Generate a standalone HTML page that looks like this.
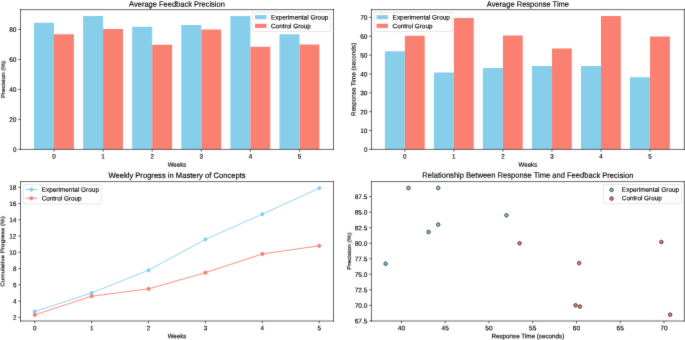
<!DOCTYPE html>
<html><head><meta charset="utf-8"><title>Feedback Study Charts</title><style>
html,body{margin:0;padding:0;background:#fff;font-family:"Liberation Sans",sans-serif;}
body{width:685px;height:340px;overflow:hidden;}
svg{display:block;}
svg text{fill:#000;stroke:#000;stroke-width:0.220;}
</style></head><body>
<svg width="685" height="340" viewBox="0 0 1198.54192 573.302108" preserveAspectRatio="none" font-family="Liberation Sans, sans-serif">
 <defs>
  <filter id="soft" x="0" y="0" width="1" height="1" color-interpolation-filters="sRGB"><feConvolveMatrix order="3" kernelMatrix="0.0081 0.0738 0.0081 0.0738 0.6724 0.0738 0.0081 0.0738 0.0081" edgeMode="duplicate"/></filter>
  <style type="text/css">*{stroke-linejoin: round; stroke-linecap: butt}</style>
 </defs>
 <g id="figure_1" filter="url(#soft)">
  <g id="patch_1">
   <path d="M 0 573.302108 
L 1198.54192 573.302108 
L 1198.54192 0 
L 0 0 
z
" style="fill: #ffffff"/>
  </g>
  <g id="axes_1">
   <g id="patch_2">
    <path d="M 35.868773 251.915691 
L 583.523694 251.915691 
L 583.523694 15.850117 
L 35.868773 15.850117 
z
" style="fill: #ffffff"/>
   </g>
   <g id="patch_3">
    <path d="M 59.433707 251.915691 
L 94.484722 251.915691 
L 94.484722 38.21875 
L 59.433707 38.21875 
z
" clip-path="url(#p5377e42d50)" style="fill: #87ceeb"/>
   </g>
   <g id="patch_4">
    <path d="M 145.343057 251.915691 
L 180.394071 251.915691 
L 180.394071 27.091335 
L 145.343057 27.091335 
z
" clip-path="url(#p5377e42d50)" style="fill: #87ceeb"/>
   </g>
   <g id="patch_5">
    <path d="M 231.252406 251.915691 
L 266.303421 251.915691 
L 266.303421 45.046936 
L 231.252406 45.046936 
z
" clip-path="url(#p5377e42d50)" style="fill: #87ceeb"/>
   </g>
   <g id="patch_6">
    <path d="M 317.161756 251.915691 
L 352.21277 251.915691 
L 352.21277 42.012186 
L 317.161756 42.012186 
z
" clip-path="url(#p5377e42d50)" style="fill: #87ceeb"/>
   </g>
   <g id="patch_7">
    <path d="M 403.071105 251.915691 
L 438.12212 251.915691 
L 438.12212 27.091335 
L 403.071105 27.091335 
z
" clip-path="url(#p5377e42d50)" style="fill: #87ceeb"/>
   </g>
   <g id="patch_8">
    <path d="M 488.980455 251.915691 
L 524.031469 251.915691 
L 524.031469 57.944621 
L 488.980455 57.944621 
z
" clip-path="url(#p5377e42d50)" style="fill: #87ceeb"/>
   </g>
   <g id="patch_9">
    <path d="M 94.484722 251.915691 
L 129.278008 251.915691 
L 129.278008 57.691725 
L 94.484722 57.691725 
z
" clip-path="url(#p5377e42d50)" style="fill: #fa8072"/>
   </g>
   <g id="patch_10">
    <path d="M 180.394071 251.915691 
L 215.187358 251.915691 
L 215.187358 49.093268 
L 180.394071 49.093268 
z
" clip-path="url(#p5377e42d50)" style="fill: #fa8072"/>
   </g>
   <g id="patch_11">
    <path d="M 266.303421 251.915691 
L 301.096707 251.915691 
L 301.096707 75.39443 
L 266.303421 75.39443 
z
" clip-path="url(#p5377e42d50)" style="fill: #fa8072"/>
   </g>
   <g id="patch_12">
    <path d="M 352.21277 251.915691 
L 387.006057 251.915691 
L 387.006057 49.59906 
L 352.21277 49.59906 
z
" clip-path="url(#p5377e42d50)" style="fill: #fa8072"/>
   </g>
   <g id="patch_13">
    <path d="M 438.12212 251.915691 
L 472.915406 251.915691 
L 472.915406 78.682076 
L 438.12212 78.682076 
z
" clip-path="url(#p5377e42d50)" style="fill: #fa8072"/>
   </g>
   <g id="patch_14">
    <path d="M 524.031469 251.915691 
L 558.824756 251.915691 
L 558.824756 74.888639 
L 524.031469 74.888639 
z
" clip-path="url(#p5377e42d50)" style="fill: #fa8072"/>
   </g>
   <g id="matplotlib.axis_1">
    <g id="xtick_1">
     <g id="line2d_1">
      <defs>
       <path id="m38d85b45bb" d="M 0 0 
L 0 4 
" style="stroke: #000000"/>
      </defs>
      <g>
       <use href="#m38d85b45bb" x="94.484722" y="251.915691" style="stroke: #000000"/>
      </g>
     </g>
     <g id="text_1">
      <text x="94.485" y="267.351" transform="rotate(0.03 94.485 267.351)" font-size="11.000" text-anchor="middle">0</text>
     </g>
    </g>
    <g id="xtick_2">
     <g id="line2d_2">
      <g>
       <use href="#m38d85b45bb" x="180.394071" y="251.915691" style="stroke: #000000"/>
      </g>
     </g>
     <g id="text_2">
      <text x="180.394" y="267.351" transform="rotate(0.03 180.394 267.351)" font-size="11.000" text-anchor="middle">1</text>
     </g>
    </g>
    <g id="xtick_3">
     <g id="line2d_3">
      <g>
       <use href="#m38d85b45bb" x="266.303421" y="251.915691" style="stroke: #000000"/>
      </g>
     </g>
     <g id="text_3">
      <text x="266.303" y="267.351" transform="rotate(0.03 266.303 267.351)" font-size="11.000" text-anchor="middle">2</text>
     </g>
    </g>
    <g id="xtick_4">
     <g id="line2d_4">
      <g>
       <use href="#m38d85b45bb" x="352.21277" y="251.915691" style="stroke: #000000"/>
      </g>
     </g>
     <g id="text_4">
      <text x="352.213" y="267.351" transform="rotate(0.03 352.213 267.351)" font-size="11.000" text-anchor="middle">3</text>
     </g>
    </g>
    <g id="xtick_5">
     <g id="line2d_5">
      <g>
       <use href="#m38d85b45bb" x="438.12212" y="251.915691" style="stroke: #000000"/>
      </g>
     </g>
     <g id="text_5">
      <text x="438.122" y="267.351" transform="rotate(0.03 438.122 267.351)" font-size="11.000" text-anchor="middle">4</text>
     </g>
    </g>
    <g id="xtick_6">
     <g id="line2d_6">
      <g>
       <use href="#m38d85b45bb" x="524.031469" y="251.915691" style="stroke: #000000"/>
      </g>
     </g>
     <g id="text_6">
      <text x="524.031" y="267.351" transform="rotate(0.03 524.031 267.351)" font-size="11.000" text-anchor="middle">5</text>
     </g>
    </g>
    <g id="text_7">
     <text x="309.696" y="281.029" transform="rotate(0.03 309.696 281.029)" font-size="11.000" text-anchor="middle" textLength="32.608" lengthAdjust="spacingAndGlyphs">Weeks</text>
    </g>
   </g>
   <g id="matplotlib.axis_2">
    <g id="ytick_1">
     <g id="line2d_7">
      <defs>
       <path id="mb89d10049e" d="M 0 0 
L -4 0 
" style="stroke: #000000"/>
      </defs>
      <g>
       <use href="#mb89d10049e" x="35.868773" y="251.915691" style="stroke: #000000"/>
      </g>
     </g>
     <g id="text_8">
      <text x="28.869" y="256.052" transform="rotate(0.03 28.869 256.052)" font-size="11.000" text-anchor="end">0</text>
     </g>
    </g>
    <g id="ytick_2">
     <g id="line2d_8">
      <g>
       <use href="#mb89d10049e" x="35.868773" y="201.336533" style="stroke: #000000"/>
      </g>
     </g>
     <g id="text_9">
      <text x="28.869" y="205.473" transform="rotate(0.03 28.869 205.473)" font-size="11.000" text-anchor="end" textLength="12.725" lengthAdjust="spacingAndGlyphs">20</text>
     </g>
    </g>
    <g id="ytick_3">
     <g id="line2d_9">
      <g>
       <use href="#mb89d10049e" x="35.868773" y="150.757375" style="stroke: #000000"/>
      </g>
     </g>
     <g id="text_10">
      <text x="28.869" y="154.894" transform="rotate(0.03 28.869 154.894)" font-size="11.000" text-anchor="end" textLength="12.725" lengthAdjust="spacingAndGlyphs">40</text>
     </g>
    </g>
    <g id="ytick_4">
     <g id="line2d_10">
      <g>
       <use href="#mb89d10049e" x="35.868773" y="100.178218" style="stroke: #000000"/>
      </g>
     </g>
     <g id="text_11">
      <text x="28.869" y="104.315" transform="rotate(0.03 28.869 104.315)" font-size="11.000" text-anchor="end" textLength="12.725" lengthAdjust="spacingAndGlyphs">60</text>
     </g>
    </g>
    <g id="ytick_5">
     <g id="line2d_11">
      <g>
       <use href="#mb89d10049e" x="35.868773" y="49.59906" style="stroke: #000000"/>
      </g>
     </g>
     <g id="text_12">
      <text x="28.869" y="53.736" transform="rotate(0.03 28.869 53.736)" font-size="11.000" text-anchor="end" textLength="12.725" lengthAdjust="spacingAndGlyphs">80</text>
     </g>
    </g>
    <g id="text_13">
     <text x="8.577" y="133.883" transform="rotate(-89.97 8.577 133.883)" font-size="10.300" text-anchor="middle" textLength="62.824" lengthAdjust="spacingAndGlyphs">Precision (%)</text>
    </g>
   </g>
   <g id="patch_15">
    <path d="M 35.868773 251.915691 
L 35.868773 15.850117 
" style="fill: none; stroke: #000000; stroke-linejoin: miter; stroke-linecap: square"/>
   </g>
   <g id="patch_16">
    <path d="M 583.523694 251.915691 
L 583.523694 15.850117 
" style="fill: none; stroke: #000000; stroke-linejoin: miter; stroke-linecap: square"/>
   </g>
   <g id="patch_17">
    <path d="M 35.868773 251.915691 
L 583.523694 251.915691 
" style="fill: none; stroke: #000000; stroke-linejoin: miter; stroke-linecap: square"/>
   </g>
   <g id="patch_18">
    <path d="M 35.868773 16.271663 
L 583.523694 16.271663 
" style="fill: none; stroke: #000000; stroke-linejoin: miter; stroke-linecap: square"/>
   </g>
   <g id="text_14">
    <text x="309.696" y="11.199" transform="rotate(0.03 309.696 11.199)" font-size="13.200" text-anchor="middle" textLength="167.596" lengthAdjust="spacingAndGlyphs">Average Feedback Precision</text>
   </g>
   <g id="legend_1">
    <g id="patch_19">
     <path d="M 444.220569 53.206367 
L 576.523694 53.206367 
Q 578.523694 53.206367 578.523694 51.206367 
L 578.523694 22.850117 
Q 578.523694 20.850117 576.523694 20.850117 
L 444.220569 20.850117 
Q 442.220569 20.850117 442.220569 22.850117 
L 442.220569 51.206367 
Q 442.220569 53.206367 444.220569 53.206367 
z
" style="fill: #ffffff; opacity: 0.8; stroke: #cccccc; stroke-linejoin: miter"/>
    </g>
    <g id="patch_20">
     <path d="M 446.220569 32.448555 
L 466.220569 32.448555 
L 466.220569 25.448555 
L 446.220569 25.448555 
z
" style="fill: #87ceeb"/>
    </g>
    <g id="text_15">
     <text x="474.221" y="32.786" transform="rotate(0.03 474.221 32.786)" font-size="11.000" text-anchor="start" textLength="100.308" lengthAdjust="spacingAndGlyphs">Experimental Group</text>
    </g>
    <g id="patch_21">
     <path d="M 446.220569 47.12668 
L 466.220569 47.12668 
L 466.220569 40.12668 
L 446.220569 40.12668 
z
" style="fill: #fa8072"/>
    </g>
    <g id="text_16">
     <text x="474.221" y="47.464" transform="rotate(0.03 474.221 47.464)" font-size="11.000" text-anchor="start" textLength="69.771" lengthAdjust="spacingAndGlyphs">Control Group</text>
    </g>
   </g>
  </g>
  <g id="axes_2">
   <g id="patch_22">
    <path d="M 649.924666 251.915691 
L 1197.404617 251.915691 
L 1197.404617 15.850117 
L 649.924666 15.850117 
z
" style="fill: #ffffff"/>
   </g>
   <g id="patch_23">
    <path d="M 673.361866 251.915691 
L 708.363248 251.915691 
L 708.363248 86.5569 
L 673.361866 86.5569 
z
" clip-path="url(#pbf9be6e70e)" style="fill: #87ceeb"/>
   </g>
   <g id="patch_24">
    <path d="M 759.149567 251.915691 
L 794.150949 251.915691 
L 794.150949 122.17264 
L 759.149567 122.17264 
z
" clip-path="url(#pbf9be6e70e)" style="fill: #87ceeb"/>
   </g>
   <g id="patch_25">
    <path d="M 844.937268 251.915691 
L 879.93865 251.915691 
L 879.93865 114.858693 
L 844.937268 114.858693 
z
" clip-path="url(#pbf9be6e70e)" style="fill: #87ceeb"/>
   </g>
   <g id="patch_26">
    <path d="M 930.724969 251.915691 
L 965.726351 251.915691 
L 965.726351 111.360719 
L 930.724969 111.360719 
z
" clip-path="url(#pbf9be6e70e)" style="fill: #87ceeb"/>
   </g>
   <g id="patch_27">
    <path d="M 1016.512671 251.915691 
L 1051.514053 251.915691 
L 1051.514053 111.360719 
L 1016.512671 111.360719 
z
" clip-path="url(#pbf9be6e70e)" style="fill: #87ceeb"/>
   </g>
   <g id="patch_28">
    <path d="M 1102.300372 251.915691 
L 1137.301754 251.915691 
L 1137.301754 130.440579 
L 1102.300372 130.440579 
z
" clip-path="url(#pbf9be6e70e)" style="fill: #87ceeb"/>
   </g>
   <g id="patch_29">
    <path d="M 708.363248 251.915691 
L 743.107267 251.915691 
L 743.107267 60.163093 
L 708.363248 60.163093 
z
" clip-path="url(#pbf9be6e70e)" style="fill: #fa8072"/>
   </g>
   <g id="patch_30">
    <path d="M 794.150949 251.915691 
L 828.894968 251.915691 
L 828.894968 30.271312 
L 794.150949 30.271312 
z
" clip-path="url(#pbf9be6e70e)" style="fill: #fa8072"/>
   </g>
   <g id="patch_31">
    <path d="M 879.93865 251.915691 
L 914.682669 251.915691 
L 914.682669 59.845095 
L 879.93865 59.845095 
z
" clip-path="url(#pbf9be6e70e)" style="fill: #fa8072"/>
   </g>
   <g id="patch_32">
    <path d="M 965.726351 251.915691 
L 1000.47037 251.915691 
L 1000.47037 81.786935 
L 965.726351 81.786935 
z
" clip-path="url(#pbf9be6e70e)" style="fill: #fa8072"/>
   </g>
   <g id="patch_33">
    <path d="M 1051.514053 251.915691 
L 1086.258072 251.915691 
L 1086.258072 27.091335 
L 1051.514053 27.091335 
z
" clip-path="url(#pbf9be6e70e)" style="fill: #fa8072"/>
   </g>
   <g id="patch_34">
    <path d="M 1137.301754 251.915691 
L 1172.045773 251.915691 
L 1172.045773 61.435084 
L 1137.301754 61.435084 
z
" clip-path="url(#pbf9be6e70e)" style="fill: #fa8072"/>
   </g>
   <g id="matplotlib.axis_3">
    <g id="xtick_7">
     <g id="line2d_12">
      <g>
       <use href="#m38d85b45bb" x="708.363248" y="251.915691" style="stroke: #000000"/>
      </g>
     </g>
     <g id="text_17">
      <text x="708.363" y="267.351" transform="rotate(0.03 708.363 267.351)" font-size="11.000" text-anchor="middle">0</text>
     </g>
    </g>
    <g id="xtick_8">
     <g id="line2d_13">
      <g>
       <use href="#m38d85b45bb" x="794.150949" y="251.915691" style="stroke: #000000"/>
      </g>
     </g>
     <g id="text_18">
      <text x="794.151" y="267.351" transform="rotate(0.03 794.151 267.351)" font-size="11.000" text-anchor="middle">1</text>
     </g>
    </g>
    <g id="xtick_9">
     <g id="line2d_14">
      <g>
       <use href="#m38d85b45bb" x="879.93865" y="251.915691" style="stroke: #000000"/>
      </g>
     </g>
     <g id="text_19">
      <text x="879.939" y="267.351" transform="rotate(0.03 879.939 267.351)" font-size="11.000" text-anchor="middle">2</text>
     </g>
    </g>
    <g id="xtick_10">
     <g id="line2d_15">
      <g>
       <use href="#m38d85b45bb" x="965.726351" y="251.915691" style="stroke: #000000"/>
      </g>
     </g>
     <g id="text_20">
      <text x="965.726" y="267.351" transform="rotate(0.03 965.726 267.351)" font-size="11.000" text-anchor="middle">3</text>
     </g>
    </g>
    <g id="xtick_11">
     <g id="line2d_16">
      <g>
       <use href="#m38d85b45bb" x="1051.514053" y="251.915691" style="stroke: #000000"/>
      </g>
     </g>
     <g id="text_21">
      <text x="1051.514" y="267.351" transform="rotate(0.03 1051.514 267.351)" font-size="11.000" text-anchor="middle">4</text>
     </g>
    </g>
    <g id="xtick_12">
     <g id="line2d_17">
      <g>
       <use href="#m38d85b45bb" x="1137.301754" y="251.915691" style="stroke: #000000"/>
      </g>
     </g>
     <g id="text_22">
      <text x="1137.302" y="267.351" transform="rotate(0.03 1137.302 267.351)" font-size="11.000" text-anchor="middle">5</text>
     </g>
    </g>
    <g id="text_23">
     <text x="923.665" y="281.029" transform="rotate(0.03 923.665 281.029)" font-size="11.000" text-anchor="middle" textLength="32.608" lengthAdjust="spacingAndGlyphs">Weeks</text>
    </g>
   </g>
   <g id="matplotlib.axis_4">
    <g id="ytick_6">
     <g id="line2d_18">
      <g>
       <use href="#mb89d10049e" x="649.924666" y="251.915691" style="stroke: #000000"/>
      </g>
     </g>
     <g id="text_24">
      <text x="642.925" y="256.052" transform="rotate(0.03 642.925 256.052)" font-size="11.000" text-anchor="end">0</text>
     </g>
    </g>
    <g id="ytick_7">
     <g id="line2d_19">
      <g>
       <use href="#mb89d10049e" x="649.924666" y="220.115923" style="stroke: #000000"/>
      </g>
     </g>
     <g id="text_25">
      <text x="642.925" y="224.252" transform="rotate(0.03 642.925 224.252)" font-size="11.000" text-anchor="end" textLength="12.725" lengthAdjust="spacingAndGlyphs">10</text>
     </g>
    </g>
    <g id="ytick_8">
     <g id="line2d_20">
      <g>
       <use href="#mb89d10049e" x="649.924666" y="188.316156" style="stroke: #000000"/>
      </g>
     </g>
     <g id="text_26">
      <text x="642.925" y="192.453" transform="rotate(0.03 642.925 192.453)" font-size="11.000" text-anchor="end" textLength="12.725" lengthAdjust="spacingAndGlyphs">20</text>
     </g>
    </g>
    <g id="ytick_9">
     <g id="line2d_21">
      <g>
       <use href="#mb89d10049e" x="649.924666" y="156.516388" style="stroke: #000000"/>
      </g>
     </g>
     <g id="text_27">
      <text x="642.925" y="160.653" transform="rotate(0.03 642.925 160.653)" font-size="11.000" text-anchor="end" textLength="12.725" lengthAdjust="spacingAndGlyphs">30</text>
     </g>
    </g>
    <g id="ytick_10">
     <g id="line2d_22">
      <g>
       <use href="#mb89d10049e" x="649.924666" y="124.716621" style="stroke: #000000"/>
      </g>
     </g>
     <g id="text_28">
      <text x="642.925" y="128.853" transform="rotate(0.03 642.925 128.853)" font-size="11.000" text-anchor="end" textLength="12.725" lengthAdjust="spacingAndGlyphs">40</text>
     </g>
    </g>
    <g id="ytick_11">
     <g id="line2d_23">
      <g>
       <use href="#mb89d10049e" x="649.924666" y="92.916854" style="stroke: #000000"/>
      </g>
     </g>
     <g id="text_29">
      <text x="642.925" y="97.053" transform="rotate(0.03 642.925 97.053)" font-size="11.000" text-anchor="end" textLength="12.725" lengthAdjust="spacingAndGlyphs">50</text>
     </g>
    </g>
    <g id="ytick_12">
     <g id="line2d_24">
      <g>
       <use href="#mb89d10049e" x="649.924666" y="61.117086" style="stroke: #000000"/>
      </g>
     </g>
     <g id="text_30">
      <text x="642.925" y="65.254" transform="rotate(0.03 642.925 65.254)" font-size="11.000" text-anchor="end" textLength="12.725" lengthAdjust="spacingAndGlyphs">60</text>
     </g>
    </g>
    <g id="ytick_13">
     <g id="line2d_25">
      <g>
       <use href="#mb89d10049e" x="649.924666" y="29.317319" style="stroke: #000000"/>
      </g>
     </g>
     <g id="text_31">
      <text x="642.925" y="33.454" transform="rotate(0.03 642.925 33.454)" font-size="11.000" text-anchor="end" textLength="12.725" lengthAdjust="spacingAndGlyphs">70</text>
     </g>
    </g>
    <g id="text_32">
     <text x="622.020" y="133.883" transform="rotate(-89.97 622.020 133.883)" font-size="10.300" text-anchor="middle" textLength="123.071" lengthAdjust="spacingAndGlyphs">Response Time (seconds)</text>
    </g>
   </g>
   <g id="patch_35">
    <path d="M 649.924666 251.915691 
L 649.924666 15.850117 
" style="fill: none; stroke: #000000; stroke-linejoin: miter; stroke-linecap: square"/>
   </g>
   <g id="patch_36">
    <path d="M 1197.404617 251.915691 
L 1197.404617 15.850117 
" style="fill: none; stroke: #000000; stroke-linejoin: miter; stroke-linecap: square"/>
   </g>
   <g id="patch_37">
    <path d="M 649.924666 251.915691 
L 1197.404617 251.915691 
" style="fill: none; stroke: #000000; stroke-linejoin: miter; stroke-linecap: square"/>
   </g>
   <g id="patch_38">
    <path d="M 649.924666 16.271663 
L 1197.404617 16.271663 
" style="fill: none; stroke: #000000; stroke-linejoin: miter; stroke-linecap: square"/>
   </g>
   <g id="text_33">
    <text x="923.665" y="11.199" transform="rotate(0.03 923.665 11.199)" font-size="13.200" text-anchor="middle" textLength="143.907" lengthAdjust="spacingAndGlyphs">Average Response Time</text>
   </g>
   <g id="legend_2">
    <g id="patch_39">
     <path d="M 656.924666 53.206367 
L 789.227791 53.206367 
Q 791.227791 53.206367 791.227791 51.206367 
L 791.227791 22.850117 
Q 791.227791 20.850117 789.227791 20.850117 
L 656.924666 20.850117 
Q 654.924666 20.850117 654.924666 22.850117 
L 654.924666 51.206367 
Q 654.924666 53.206367 656.924666 53.206367 
z
" style="fill: #ffffff; opacity: 0.8; stroke: #cccccc; stroke-linejoin: miter"/>
    </g>
    <g id="patch_40">
     <path d="M 658.924666 32.448555 
L 678.924666 32.448555 
L 678.924666 25.448555 
L 658.924666 25.448555 
z
" style="fill: #87ceeb"/>
    </g>
    <g id="text_34">
     <text x="686.925" y="32.786" transform="rotate(0.03 686.925 32.786)" font-size="11.000" text-anchor="start" textLength="100.308" lengthAdjust="spacingAndGlyphs">Experimental Group</text>
    </g>
    <g id="patch_41">
     <path d="M 658.924666 47.12668 
L 678.924666 47.12668 
L 678.924666 40.12668 
L 658.924666 40.12668 
z
" style="fill: #fa8072"/>
    </g>
    <g id="text_35">
     <text x="686.925" y="47.464" transform="rotate(0.03 686.925 47.464)" font-size="11.000" text-anchor="start" textLength="69.771" lengthAdjust="spacingAndGlyphs">Control Group</text>
    </g>
   </g>
  </g>
  <g id="axes_3">
   <g id="patch_42">
    <path d="M 35.868773 541.601874 
L 583.523694 541.601874 
L 583.523694 306.548009 
L 35.868773 306.548009 
z
" style="fill: #ffffff"/>
   </g>
   <g id="matplotlib.axis_5">
    <g id="xtick_13">
     <g id="line2d_26">
      <g>
       <use href="#m38d85b45bb" x="60.762178" y="541.264637" style="stroke: #000000"/>
      </g>
     </g>
     <g id="text_36">
      <text x="60.762" y="556.700" transform="rotate(0.03 60.762 556.700)" font-size="11.000" text-anchor="middle">0</text>
     </g>
    </g>
    <g id="xtick_14">
     <g id="line2d_27">
      <g>
       <use href="#m38d85b45bb" x="160.3358" y="541.264637" style="stroke: #000000"/>
      </g>
     </g>
     <g id="text_37">
      <text x="160.336" y="556.700" transform="rotate(0.03 160.336 556.700)" font-size="11.000" text-anchor="middle">1</text>
     </g>
    </g>
    <g id="xtick_15">
     <g id="line2d_28">
      <g>
       <use href="#m38d85b45bb" x="259.909422" y="541.264637" style="stroke: #000000"/>
      </g>
     </g>
     <g id="text_38">
      <text x="259.909" y="556.700" transform="rotate(0.03 259.909 556.700)" font-size="11.000" text-anchor="middle">2</text>
     </g>
    </g>
    <g id="xtick_16">
     <g id="line2d_29">
      <g>
       <use href="#m38d85b45bb" x="359.483044" y="541.264637" style="stroke: #000000"/>
      </g>
     </g>
     <g id="text_39">
      <text x="359.483" y="556.700" transform="rotate(0.03 359.483 556.700)" font-size="11.000" text-anchor="middle">3</text>
     </g>
    </g>
    <g id="xtick_17">
     <g id="line2d_30">
      <g>
       <use href="#m38d85b45bb" x="459.056666" y="541.264637" style="stroke: #000000"/>
      </g>
     </g>
     <g id="text_40">
      <text x="459.057" y="556.700" transform="rotate(0.03 459.057 556.700)" font-size="11.000" text-anchor="middle">4</text>
     </g>
    </g>
    <g id="xtick_18">
     <g id="line2d_31">
      <g>
       <use href="#m38d85b45bb" x="558.630288" y="541.264637" style="stroke: #000000"/>
      </g>
     </g>
     <g id="text_41">
      <text x="558.630" y="556.700" transform="rotate(0.03 558.630 556.700)" font-size="11.000" text-anchor="middle">5</text>
     </g>
    </g>
    <g id="text_42">
     <text x="309.696" y="570.378" transform="rotate(0.03 309.696 570.378)" font-size="11.000" text-anchor="middle" textLength="32.608" lengthAdjust="spacingAndGlyphs">Weeks</text>
    </g>
   </g>
   <g id="matplotlib.axis_6">
    <g id="ytick_14">
     <g id="line2d_32">
      <g>
       <use href="#mb89d10049e" x="35.868773" y="535.02694" style="stroke: #000000"/>
      </g>
     </g>
     <g id="text_43">
      <text x="28.869" y="539.163" transform="rotate(0.03 28.869 539.163)" font-size="11.000" text-anchor="end">2</text>
     </g>
    </g>
    <g id="ytick_15">
     <g id="line2d_33">
      <g>
       <use href="#mb89d10049e" x="35.868773" y="507.631385" style="stroke: #000000"/>
      </g>
     </g>
     <g id="text_44">
      <text x="28.869" y="511.768" transform="rotate(0.03 28.869 511.768)" font-size="11.000" text-anchor="end">4</text>
     </g>
    </g>
    <g id="ytick_16">
     <g id="line2d_34">
      <g>
       <use href="#mb89d10049e" x="35.868773" y="480.23583" style="stroke: #000000"/>
      </g>
     </g>
     <g id="text_45">
      <text x="28.869" y="484.372" transform="rotate(0.03 28.869 484.372)" font-size="11.000" text-anchor="end">6</text>
     </g>
    </g>
    <g id="ytick_17">
     <g id="line2d_35">
      <g>
       <use href="#mb89d10049e" x="35.868773" y="452.840274" style="stroke: #000000"/>
      </g>
     </g>
     <g id="text_46">
      <text x="28.869" y="456.977" transform="rotate(0.03 28.869 456.977)" font-size="11.000" text-anchor="end">8</text>
     </g>
    </g>
    <g id="ytick_18">
     <g id="line2d_36">
      <g>
       <use href="#mb89d10049e" x="35.868773" y="425.444719" style="stroke: #000000"/>
      </g>
     </g>
     <g id="text_47">
      <text x="28.869" y="429.581" transform="rotate(0.03 28.869 429.581)" font-size="11.000" text-anchor="end" textLength="12.725" lengthAdjust="spacingAndGlyphs">10</text>
     </g>
    </g>
    <g id="ytick_19">
     <g id="line2d_37">
      <g>
       <use href="#mb89d10049e" x="35.868773" y="398.049164" style="stroke: #000000"/>
      </g>
     </g>
     <g id="text_48">
      <text x="28.869" y="402.186" transform="rotate(0.03 28.869 402.186)" font-size="11.000" text-anchor="end" textLength="12.725" lengthAdjust="spacingAndGlyphs">12</text>
     </g>
    </g>
    <g id="ytick_20">
     <g id="line2d_38">
      <g>
       <use href="#mb89d10049e" x="35.868773" y="370.653609" style="stroke: #000000"/>
      </g>
     </g>
     <g id="text_49">
      <text x="28.869" y="374.790" transform="rotate(0.03 28.869 374.790)" font-size="11.000" text-anchor="end" textLength="12.725" lengthAdjust="spacingAndGlyphs">14</text>
     </g>
    </g>
    <g id="ytick_21">
     <g id="line2d_39">
      <g>
       <use href="#mb89d10049e" x="35.868773" y="343.258053" style="stroke: #000000"/>
      </g>
     </g>
     <g id="text_50">
      <text x="28.869" y="347.395" transform="rotate(0.03 28.869 347.395)" font-size="11.000" text-anchor="end" textLength="12.725" lengthAdjust="spacingAndGlyphs">16</text>
     </g>
    </g>
    <g id="ytick_22">
     <g id="line2d_40">
      <g>
       <use href="#mb89d10049e" x="35.868773" y="315.862498" style="stroke: #000000"/>
      </g>
     </g>
     <g id="text_51">
      <text x="28.869" y="319.999" transform="rotate(0.03 28.869 319.999)" font-size="11.000" text-anchor="end" textLength="12.725" lengthAdjust="spacingAndGlyphs">18</text>
     </g>
    </g>
    <g id="text_52">
     <text x="7.877" y="424.075" transform="rotate(-89.97 7.877 424.075)" font-size="10.300" text-anchor="middle" textLength="119.094" lengthAdjust="spacingAndGlyphs">Cumulative Progress (%)</text>
    </g>
   </g>
   <g id="line2d_41">
    <path d="M 60.762178 525.438496 
L 160.3358 493.933607 
L 259.909422 455.57983 
L 359.483044 403.528275 
L 459.056666 361.065164 
L 558.630288 317.232276 
" clip-path="url(#p554a371051)" style="fill: none; stroke: #87ceeb; stroke-width: 1.5; stroke-linecap: square"/>
    <defs>
     <path id="mcf2c2cec55" d="M 0 3 
C 0.795609 3 1.55874 2.683901 2.12132 2.12132 
C 2.683901 1.55874 3 0.795609 3 0 
C 3 -0.795609 2.683901 -1.55874 2.12132 -2.12132 
C 1.55874 -2.683901 0.795609 -3 0 -3 
C -0.795609 -3 -1.55874 -2.683901 -2.12132 -2.12132 
C -2.683901 -1.55874 -3 -0.795609 -3 0 
C -3 0.795609 -2.683901 1.55874 -2.12132 2.12132 
C -1.55874 2.683901 -0.795609 3 0 3 
z
" style="stroke: #87ceeb"/>
    </defs>
    <g clip-path="url(#p554a371051)">
     <use href="#mcf2c2cec55" x="60.762178" y="525.438496" style="fill: #87ceeb; stroke: #87ceeb"/>
     <use href="#mcf2c2cec55" x="160.3358" y="493.933607" style="fill: #87ceeb; stroke: #87ceeb"/>
     <use href="#mcf2c2cec55" x="259.909422" y="455.57983" style="fill: #87ceeb; stroke: #87ceeb"/>
     <use href="#mcf2c2cec55" x="359.483044" y="403.528275" style="fill: #87ceeb; stroke: #87ceeb"/>
     <use href="#mcf2c2cec55" x="459.056666" y="361.065164" style="fill: #87ceeb; stroke: #87ceeb"/>
     <use href="#mcf2c2cec55" x="558.630288" y="317.232276" style="fill: #87ceeb; stroke: #87ceeb"/>
    </g>
   </g>
   <g id="line2d_42">
    <path d="M 60.762178 530.917607 
L 160.3358 499.412718 
L 259.909422 487.084719 
L 359.483044 459.689163 
L 459.056666 428.184275 
L 558.630288 414.486497 
" clip-path="url(#p554a371051)" style="fill: none; stroke: #fa8072; stroke-width: 1.5; stroke-linecap: square"/>
    <defs>
     <path id="maef24b774a" d="M 0 3 
C 0.795609 3 1.55874 2.683901 2.12132 2.12132 
C 2.683901 1.55874 3 0.795609 3 0 
C 3 -0.795609 2.683901 -1.55874 2.12132 -2.12132 
C 1.55874 -2.683901 0.795609 -3 0 -3 
C -0.795609 -3 -1.55874 -2.683901 -2.12132 -2.12132 
C -2.683901 -1.55874 -3 -0.795609 -3 0 
C -3 0.795609 -2.683901 1.55874 -2.12132 2.12132 
C -1.55874 2.683901 -0.795609 3 0 3 
z
" style="stroke: #fa8072"/>
    </defs>
    <g clip-path="url(#p554a371051)">
     <use href="#maef24b774a" x="60.762178" y="530.917607" style="fill: #fa8072; stroke: #fa8072"/>
     <use href="#maef24b774a" x="160.3358" y="499.412718" style="fill: #fa8072; stroke: #fa8072"/>
     <use href="#maef24b774a" x="259.909422" y="487.084719" style="fill: #fa8072; stroke: #fa8072"/>
     <use href="#maef24b774a" x="359.483044" y="459.689163" style="fill: #fa8072; stroke: #fa8072"/>
     <use href="#maef24b774a" x="459.056666" y="428.184275" style="fill: #fa8072; stroke: #fa8072"/>
     <use href="#maef24b774a" x="558.630288" y="414.486497" style="fill: #fa8072; stroke: #fa8072"/>
    </g>
   </g>
   <g id="patch_43">
    <path d="M 35.868773 541.601874 
L 35.868773 306.548009 
" style="fill: none; stroke: #000000; stroke-linejoin: miter; stroke-linecap: square"/>
   </g>
   <g id="patch_44">
    <path d="M 583.523694 541.601874 
L 583.523694 306.548009 
" style="fill: none; stroke: #000000; stroke-linejoin: miter; stroke-linecap: square"/>
   </g>
   <g id="patch_45">
    <path d="M 35.868773 541.264637 
L 583.523694 541.264637 
" style="fill: none; stroke: #000000; stroke-linejoin: miter; stroke-linecap: square"/>
   </g>
   <g id="patch_46">
    <path d="M 35.868773 306.210773 
L 583.523694 306.210773 
" style="fill: none; stroke: #000000; stroke-linejoin: miter; stroke-linecap: square"/>
   </g>
   <g id="text_53">
    <text x="309.696" y="300.211" transform="rotate(0.03 309.696 300.211)" font-size="13.200" text-anchor="middle" textLength="240.066" lengthAdjust="spacingAndGlyphs">Weekly Progress in Mastery of Concepts</text>
   </g>
   <g id="legend_3">
    <g id="patch_47">
     <path d="M 42.868773 343.904259 
L 175.171898 343.904259 
Q 177.171898 343.904259 177.171898 341.904259 
L 177.171898 313.548009 
Q 177.171898 311.548009 175.171898 311.548009 
L 42.868773 311.548009 
Q 40.868773 311.548009 40.868773 313.548009 
L 40.868773 341.904259 
Q 40.868773 343.904259 42.868773 343.904259 
z
" style="fill: #ffffff; opacity: 0.8; stroke: #cccccc; stroke-linejoin: miter"/>
    </g>
    <g id="line2d_43">
     <path d="M 44.868773 319.646447 
L 54.868773 319.646447 
L 64.868773 319.646447 
" style="fill: none; stroke: #87ceeb; stroke-width: 1.5; stroke-linecap: square"/>
     <g>
      <use href="#mcf2c2cec55" x="54.868773" y="319.646447" style="fill: #87ceeb; stroke: #87ceeb"/>
     </g>
    </g>
    <g id="text_54">
     <text x="72.869" y="323.484" transform="rotate(0.03 72.869 323.484)" font-size="11.000" text-anchor="start" textLength="100.308" lengthAdjust="spacingAndGlyphs">Experimental Group</text>
    </g>
    <g id="line2d_44">
     <path d="M 44.868773 334.324572 
L 54.868773 334.324572 
L 64.868773 334.324572 
" style="fill: none; stroke: #fa8072; stroke-width: 1.5; stroke-linecap: square"/>
     <g>
      <use href="#maef24b774a" x="54.868773" y="334.324572" style="fill: #fa8072; stroke: #fa8072"/>
     </g>
    </g>
    <g id="text_55">
     <text x="72.869" y="338.162" transform="rotate(0.03 72.869 338.162)" font-size="11.000" text-anchor="start" textLength="69.771" lengthAdjust="spacingAndGlyphs">Control Group</text>
    </g>
   </g>
  </g>
  <g id="axes_4">
   <g id="patch_48">
    <path d="M 649.924666 541.264637 
L 1197.404617 541.264637 
L 1197.404617 306.210773 
L 649.924666 306.210773 
z
" style="fill: #ffffff"/>
   </g>
   <g id="PathCollection_1">
    <defs>
     <path id="mc137dd8307" d="M 0 3 
C 0.795609 3 1.55874 2.683901 2.12132 2.12132 
C 2.683901 1.55874 3 0.795609 3 0 
C 3 -0.795609 2.683901 -1.55874 2.12132 -2.12132 
C 1.55874 -2.683901 0.795609 -3 0 -3 
C -0.795609 -3 -1.55874 -2.683901 -2.12132 -2.12132 
C -2.683901 -1.55874 -3 -0.795609 -3 0 
C -3 0.795609 -2.683901 1.55874 -2.12132 2.12132 
C -1.55874 2.683901 -0.795609 3 0 3 
z
" style="stroke: #000000; stroke-width: 1.3"/>
    </defs>
    <g clip-path="url(#pd7f72190d7)">
     <use href="#mc137dd8307" x="886.145036" y="362.984032" style="fill: #87ceeb; stroke: #000000; stroke-width: 1.3"/>
     <use href="#mc137dd8307" x="714.626842" y="316.895039" style="fill: #87ceeb; stroke: #000000; stroke-width: 1.3"/>
     <use href="#mc137dd8307" x="749.849328" y="391.265914" style="fill: #87ceeb; stroke: #000000; stroke-width: 1.3"/>
     <use href="#mc137dd8307" x="766.694865" y="378.696189" style="fill: #87ceeb; stroke: #000000; stroke-width: 1.3"/>
     <use href="#mc137dd8307" x="766.694865" y="316.895039" style="fill: #87ceeb; stroke: #000000; stroke-width: 1.3"/>
     <use href="#mc137dd8307" x="674.810118" y="444.687247" style="fill: #87ceeb; stroke: #000000; stroke-width: 1.3"/>
    </g>
   </g>
   <g id="PathCollection_2">
    <defs>
     <path id="mdb84289d62" d="M 0 3 
C 0.795609 3 1.55874 2.683901 2.12132 2.12132 
C 2.683901 1.55874 3 0.795609 3 0 
C 3 -0.795609 2.683901 -1.55874 2.12132 -2.12132 
C 1.55874 -2.683901 0.795609 -3 0 -3 
C -0.795609 -3 -1.55874 -2.683901 -2.12132 -2.12132 
C -2.683901 -1.55874 -3 -0.795609 -3 0 
C -3 0.795609 -2.683901 1.55874 -2.12132 2.12132 
C -1.55874 2.683901 -0.795609 3 0 3 
z
" style="stroke: #000000; stroke-width: 1.3"/>
    </defs>
    <g clip-path="url(#pd7f72190d7)">
     <use href="#mdb84289d62" x="1013.25227" y="443.63977" style="fill: #fa8072; stroke: #000000; stroke-width: 1.3"/>
     <use href="#mdb84289d62" x="1157.20504" y="408.025548" style="fill: #fa8072; stroke: #000000; stroke-width: 1.3"/>
     <use href="#mdb84289d62" x="1014.783682" y="516.963168" style="fill: #fa8072; stroke: #000000; stroke-width: 1.3"/>
     <use href="#mdb84289d62" x="909.116223" y="410.120502" style="fill: #fa8072; stroke: #000000; stroke-width: 1.3"/>
     <use href="#mdb84289d62" x="1172.519165" y="530.58037" style="fill: #fa8072; stroke: #000000; stroke-width: 1.3"/>
     <use href="#mdb84289d62" x="1007.12662" y="514.868214" style="fill: #fa8072; stroke: #000000; stroke-width: 1.3"/>
    </g>
   </g>
   <g id="matplotlib.axis_7">
    <g id="xtick_19">
     <g id="line2d_45">
      <g>
       <use href="#m38d85b45bb" x="702.375542" y="541.264637" style="stroke: #000000"/>
      </g>
     </g>
     <g id="text_56">
      <text x="702.376" y="556.700" transform="rotate(0.03 702.376 556.700)" font-size="11.000" text-anchor="middle" textLength="12.725" lengthAdjust="spacingAndGlyphs">40</text>
     </g>
    </g>
    <g id="xtick_20">
     <g id="line2d_46">
      <g>
       <use href="#m38d85b45bb" x="778.946165" y="541.264637" style="stroke: #000000"/>
      </g>
     </g>
     <g id="text_57">
      <text x="778.946" y="556.700" transform="rotate(0.03 778.946 556.700)" font-size="11.000" text-anchor="middle" textLength="12.725" lengthAdjust="spacingAndGlyphs">45</text>
     </g>
    </g>
    <g id="xtick_21">
     <g id="line2d_47">
      <g>
       <use href="#m38d85b45bb" x="855.516787" y="541.264637" style="stroke: #000000"/>
      </g>
     </g>
     <g id="text_58">
      <text x="855.517" y="556.700" transform="rotate(0.03 855.517 556.700)" font-size="11.000" text-anchor="middle" textLength="12.725" lengthAdjust="spacingAndGlyphs">50</text>
     </g>
    </g>
    <g id="xtick_22">
     <g id="line2d_48">
      <g>
       <use href="#m38d85b45bb" x="932.08741" y="541.264637" style="stroke: #000000"/>
      </g>
     </g>
     <g id="text_59">
      <text x="932.087" y="556.700" transform="rotate(0.03 932.087 556.700)" font-size="11.000" text-anchor="middle" textLength="12.725" lengthAdjust="spacingAndGlyphs">55</text>
     </g>
    </g>
    <g id="xtick_23">
     <g id="line2d_49">
      <g>
       <use href="#m38d85b45bb" x="1008.658033" y="541.264637" style="stroke: #000000"/>
      </g>
     </g>
     <g id="text_60">
      <text x="1008.658" y="556.700" transform="rotate(0.03 1008.658 556.700)" font-size="11.000" text-anchor="middle" textLength="12.725" lengthAdjust="spacingAndGlyphs">60</text>
     </g>
    </g>
    <g id="xtick_24">
     <g id="line2d_50">
      <g>
       <use href="#m38d85b45bb" x="1085.228655" y="541.264637" style="stroke: #000000"/>
      </g>
     </g>
     <g id="text_61">
      <text x="1085.229" y="556.700" transform="rotate(0.03 1085.229 556.700)" font-size="11.000" text-anchor="middle" textLength="12.725" lengthAdjust="spacingAndGlyphs">65</text>
     </g>
    </g>
    <g id="xtick_25">
     <g id="line2d_51">
      <g>
       <use href="#m38d85b45bb" x="1161.799278" y="541.264637" style="stroke: #000000"/>
      </g>
     </g>
     <g id="text_62">
      <text x="1161.799" y="556.700" transform="rotate(0.03 1161.799 556.700)" font-size="11.000" text-anchor="middle" textLength="12.725" lengthAdjust="spacingAndGlyphs">70</text>
     </g>
    </g>
    <g id="text_63">
     <text x="923.665" y="570.378" transform="rotate(0.03 923.665 570.378)" font-size="11.000" text-anchor="middle" textLength="127.535" lengthAdjust="spacingAndGlyphs">Response Time (seconds)</text>
    </g>
   </g>
   <g id="matplotlib.axis_8">
    <g id="ytick_23">
     <g id="line2d_52">
      <g>
       <use href="#mb89d10049e" x="649.924666" y="541.055142" style="stroke: #000000"/>
      </g>
     </g>
     <g id="text_64">
      <text x="642.925" y="545.192" transform="rotate(0.03 642.925 545.192)" font-size="11.000" text-anchor="end" textLength="22.266" lengthAdjust="spacingAndGlyphs">67.5</text>
     </g>
    </g>
    <g id="ytick_24">
     <g id="line2d_53">
      <g>
       <use href="#mb89d10049e" x="649.924666" y="514.868214" style="stroke: #000000"/>
      </g>
     </g>
     <g id="text_65">
      <text x="642.925" y="519.005" transform="rotate(0.03 642.925 519.005)" font-size="11.000" text-anchor="end" textLength="22.266" lengthAdjust="spacingAndGlyphs">70.0</text>
     </g>
    </g>
    <g id="ytick_25">
     <g id="line2d_54">
      <g>
       <use href="#mb89d10049e" x="649.924666" y="488.681286" style="stroke: #000000"/>
      </g>
     </g>
     <g id="text_66">
      <text x="642.925" y="492.818" transform="rotate(0.03 642.925 492.818)" font-size="11.000" text-anchor="end" textLength="22.266" lengthAdjust="spacingAndGlyphs">72.5</text>
     </g>
    </g>
    <g id="ytick_26">
     <g id="line2d_55">
      <g>
       <use href="#mb89d10049e" x="649.924666" y="462.494358" style="stroke: #000000"/>
      </g>
     </g>
     <g id="text_67">
      <text x="642.925" y="466.631" transform="rotate(0.03 642.925 466.631)" font-size="11.000" text-anchor="end" textLength="22.266" lengthAdjust="spacingAndGlyphs">75.0</text>
     </g>
    </g>
    <g id="ytick_27">
     <g id="line2d_56">
      <g>
       <use href="#mb89d10049e" x="649.924666" y="436.30743" style="stroke: #000000"/>
      </g>
     </g>
     <g id="text_68">
      <text x="642.925" y="440.444" transform="rotate(0.03 642.925 440.444)" font-size="11.000" text-anchor="end" textLength="22.266" lengthAdjust="spacingAndGlyphs">77.5</text>
     </g>
    </g>
    <g id="ytick_28">
     <g id="line2d_57">
      <g>
       <use href="#mb89d10049e" x="649.924666" y="410.120502" style="stroke: #000000"/>
      </g>
     </g>
     <g id="text_69">
      <text x="642.925" y="414.257" transform="rotate(0.03 642.925 414.257)" font-size="11.000" text-anchor="end" textLength="22.266" lengthAdjust="spacingAndGlyphs">80.0</text>
     </g>
    </g>
    <g id="ytick_29">
     <g id="line2d_58">
      <g>
       <use href="#mb89d10049e" x="649.924666" y="383.933575" style="stroke: #000000"/>
      </g>
     </g>
     <g id="text_70">
      <text x="642.925" y="388.070" transform="rotate(0.03 642.925 388.070)" font-size="11.000" text-anchor="end" textLength="22.266" lengthAdjust="spacingAndGlyphs">82.5</text>
     </g>
    </g>
    <g id="ytick_30">
     <g id="line2d_59">
      <g>
       <use href="#mb89d10049e" x="649.924666" y="357.746647" style="stroke: #000000"/>
      </g>
     </g>
     <g id="text_71">
      <text x="642.925" y="361.883" transform="rotate(0.03 642.925 361.883)" font-size="11.000" text-anchor="end" textLength="22.266" lengthAdjust="spacingAndGlyphs">85.0</text>
     </g>
    </g>
    <g id="ytick_31">
     <g id="line2d_60">
      <g>
       <use href="#mb89d10049e" x="649.924666" y="331.559719" style="stroke: #000000"/>
      </g>
     </g>
     <g id="text_72">
      <text x="642.925" y="335.696" transform="rotate(0.03 642.925 335.696)" font-size="11.000" text-anchor="end" textLength="22.266" lengthAdjust="spacingAndGlyphs">87.5</text>
     </g>
    </g>
    <g id="text_73">
     <text x="614.054" y="423.738" transform="rotate(-89.97 614.054 423.738)" font-size="10.300" text-anchor="middle" textLength="62.824" lengthAdjust="spacingAndGlyphs">Precision (%)</text>
    </g>
   </g>
   <g id="patch_49">
    <path d="M 649.924666 541.264637 
L 649.924666 306.210773 
" style="fill: none; stroke: #000000; stroke-linejoin: miter; stroke-linecap: square"/>
   </g>
   <g id="patch_50">
    <path d="M 1197.404617 541.264637 
L 1197.404617 306.210773 
" style="fill: none; stroke: #000000; stroke-linejoin: miter; stroke-linecap: square"/>
   </g>
   <g id="patch_51">
    <path d="M 649.924666 541.264637 
L 1197.404617 541.264637 
" style="fill: none; stroke: #000000; stroke-linejoin: miter; stroke-linecap: square"/>
   </g>
   <g id="patch_52">
    <path d="M 649.924666 306.210773 
L 1197.404617 306.210773 
" style="fill: none; stroke: #000000; stroke-linejoin: miter; stroke-linecap: square"/>
   </g>
   <g id="text_74">
    <text x="923.665" y="299.874" transform="rotate(0.03 923.665 299.874)" font-size="13.200" text-anchor="middle" textLength="369.324" lengthAdjust="spacingAndGlyphs">Relationship Between Response Time and Feedback Precision</text>
   </g>
   <g id="legend_4">
    <g id="patch_53">
     <path d="M 1058.101492 343.567023 
L 1190.404617 343.567023 
Q 1192.404617 343.567023 1192.404617 341.567023 
L 1192.404617 313.210773 
Q 1192.404617 311.210773 1190.404617 311.210773 
L 1058.101492 311.210773 
Q 1056.101492 311.210773 1056.101492 313.210773 
L 1056.101492 341.567023 
Q 1056.101492 343.567023 1058.101492 343.567023 
z
" style="fill: #ffffff; opacity: 0.8; stroke: #cccccc; stroke-linejoin: miter"/>
    </g>
    <g id="PathCollection_3">
     <g>
      <use href="#mc137dd8307" x="1070.101492" y="320.18421" style="fill: #87ceeb; stroke: #000000; stroke-width: 1.3"/>
     </g>
    </g>
    <g id="text_75">
     <text x="1088.101" y="323.146" transform="rotate(0.03 1088.101 323.146)" font-size="11.000" text-anchor="start" textLength="100.308" lengthAdjust="spacingAndGlyphs">Experimental Group</text>
    </g>
    <g id="PathCollection_4">
     <g>
      <use href="#mdb84289d62" x="1070.101492" y="334.862335" style="fill: #fa8072; stroke: #000000; stroke-width: 1.3"/>
     </g>
    </g>
    <g id="text_76">
     <text x="1088.101" y="337.825" transform="rotate(0.03 1088.101 337.825)" font-size="11.000" text-anchor="start" textLength="69.771" lengthAdjust="spacingAndGlyphs">Control Group</text>
    </g>
   </g>
  </g>
 </g>
 <defs>
  <clipPath id="p5377e42d50">
   <rect x="35.868773" y="15.850117" width="547.654921" height="236.065574"/>
  </clipPath>
  <clipPath id="pbf9be6e70e">
   <rect x="649.924666" y="15.850117" width="547.479951" height="236.065574"/>
  </clipPath>
  <clipPath id="p554a371051">
   <rect x="35.868773" y="306.548009" width="547.654921" height="235.053864"/>
  </clipPath>
  <clipPath id="pd7f72190d7">
   <rect x="649.924666" y="306.210773" width="547.479951" height="235.053864"/>
  </clipPath>
 </defs>
</svg>

</body></html>
